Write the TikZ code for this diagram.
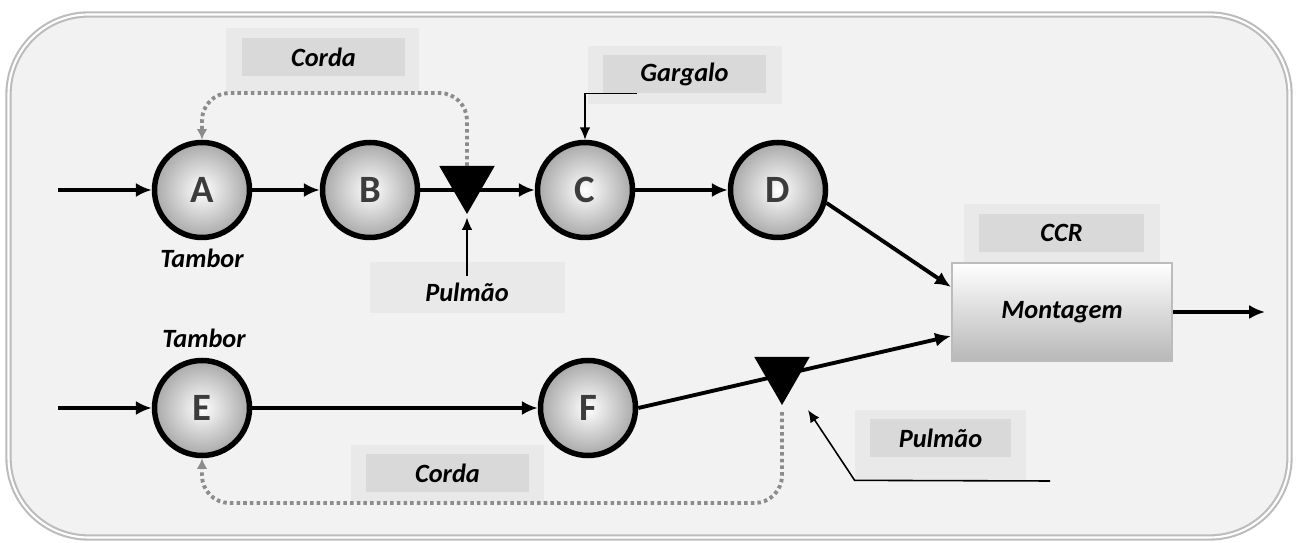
\documentclass[tikz,border=0pt]{standalone}
\usepackage{fontspec}
\setmainfont{Carlito}
\usetikzlibrary{shapes.geometric,arrows.meta}
\definecolor{fundo}{HTML}{F2F2F2}
\definecolor{caixaclara}{HTML}{E9E9E9}
\definecolor{caixaescura}{HTML}{D9D9D9}
\definecolor{moldura}{HTML}{BCBCBC}
\definecolor{cinzacorda}{HTML}{8C8C8C}
\definecolor{letra}{HTML}{3C3C3C}
\newcommand{\rotulo}{\fontsize{15}{15}\selectfont\bfseries\itshape}

\begin{document}
\begin{tikzpicture}[
	maq/.style={circle,draw=black,line width=0.11cm,minimum size=1.9cm,inner color=white,outer color=black!34,text=letra,font=\fontsize{22}{22}\selectfont\bfseries},
	pulmao/.style={regular polygon,regular polygon sides=3,shape border rotate=180,fill=black,minimum size=1.28cm,inner sep=0pt,outer sep=0pt},
	fora/.style={fill=caixaclara,inner sep=0pt},
	dentro/.style={fill=caixaescura,inner sep=0pt,minimum height=0.76cm,font=\rotulo},
	rot/.style={font=\rotulo},
	fluxo/.style={-{Latex[length=9pt,width=8pt]},line width=1.8pt},
	seta/.style={-{Latex[length=7pt,width=6pt]},line width=0.9pt},
	corda/.style={-{Latex[length=6pt,width=6pt]},draw=cinzacorda,line width=2.2pt,dash pattern=on 2pt off 1.8pt,rounded corners=0.55cm}]
	\useasboundingbox (0,0) rectangle (25.96,10.86);
	\draw[fill=fundo,draw=moldura,line width=1.2pt,double=white,double distance=1.2pt,rounded corners=1.6cm] (0.17,0.11) rectangle (25.79,10.57);
	% caixas de texto
	\node[fora,minimum width=3.86cm,minimum height=1.28cm] (c1o) at (6.45,9.66) {};
	\node[dentro,minimum width=3.26cm] (c1) at (6.47,9.72) {Corda};
	\node[fora,minimum width=3.88cm,minimum height=1.16cm] (go) at (13.70,9.36) {};
	\node[dentro,minimum width=3.26cm] (g) at (13.69,9.38) {Gargalo};
	\node[fora,minimum width=3.92cm,minimum height=1.18cm] (ccro) at (21.24,6.19) {};
	\node[dentro,minimum width=3.30cm] (ccr) at (21.23,6.20) {CCR};
	\node[fora,minimum width=3.90cm,minimum height=1.02cm] (p1o) at (9.35,5.11) {};
	\node[rot] (p1) at (9.34,5.02) {Pulmão};
	\node[fora,minimum width=3.42cm,minimum height=1.40cm] (p2o) at (18.81,1.96) {};
	\node[dentro,minimum width=2.82cm] (p2) at (18.81,2.10) {Pulmão};
	\node[fora,minimum width=3.86cm,minimum height=1.14cm] (c2o) at (8.95,1.39) {};
	\node[dentro,minimum width=3.26cm] (c2) at (8.95,1.40) {Corda};
	% maquinas
	\node[maq] (A) at (4.04,7.06) {A};
	\node[maq] (B) at (7.40,7.06) {B};
	\node[maq] (C) at (11.70,7.06) {C};
	\node[maq] (D) at (15.56,7.06) {D};
	\node[maq] (E) at (4.04,2.70) {E};
	\node[maq] (F) at (11.76,2.70) {F};
	\node[rot] (ta) at (4.04,5.70) {Tambor};
	\node[rot] (te) at (4.08,4.10) {Tambor};
	\node[pulmao] (T1) at (9.34,7.22) {};
	\node[pulmao] (T2) at (15.64,3.40) {};
	\node[draw=moldura,line width=1.2pt,top color=white,bottom color=black!28,minimum width=4.4cm,minimum height=1.96cm,font=\rotulo] (M) at (21.24,4.62) {Montagem};
	\coordinate (inA) at (1.16,7.06);
	\coordinate (inE) at (1.16,2.70);
	\coordinate (out) at (25.30,4.62);
	\coordinate (p2fim) at (21.00,1.24);
	\coordinate (p2ponta) at (16.16,2.66);
	% fluxo
	\draw[fluxo] (inA) -- (A);
	\draw[fluxo] (A) -- (B);
	\draw[fluxo] (B) -- (C);
	\draw[fluxo] (C) -- (D);
	\draw[fluxo,line width=2.2pt] (D.-15) -- ([yshift=0.5cm]M.west);
	\draw[fluxo] (inE) -- (E);
	\draw[fluxo] (E) -- (F);
	\draw[fluxo,line width=2.2pt] (F.east) -- ([yshift=-0.48cm]M.west);
	\draw[fluxo,line width=2.2pt] (M) -- (out);
	% cordas e indicadores
	\draw[corda] (T1.north) -- ++(0,1.46) -| (A.north);
	\draw[corda,shorten <=4pt] (T2.south) -- ++(0,-1.96) -| (E.south);
	\draw[seta] ([xshift=0.68cm]g.south west) -| (C.north);
	\draw[seta,shorten >=2pt] (p1.north) -- (T1.south);
	\draw[seta] (p2fim) -- (p2o.south west) -- (p2ponta);
\end{tikzpicture}
\end{document}
